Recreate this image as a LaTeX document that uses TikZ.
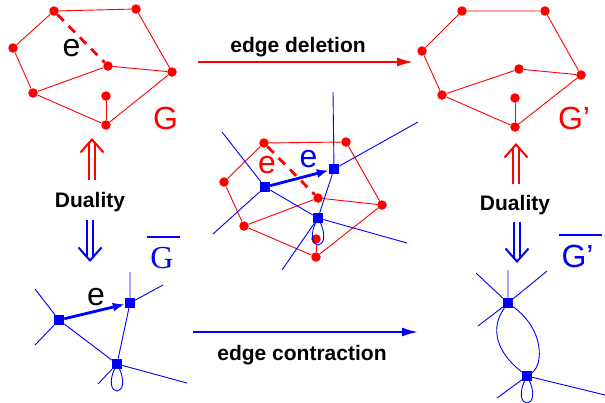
\documentclass[tikz,border=0pt]{standalone}
\usepackage{fontspec}
\setmainfont{Liberation Sans}
\newfontfamily\serifG{Liberation Serif}
\usetikzlibrary{arrows.meta}
\newcommand{\ovl}[1]{\vbox{\hrule height 1.5pt\kern 9pt\hbox{#1}}}

\begin{document}
\begin{tikzpicture}[x=1pt, y=-1pt, >=Latex]
  \tikzstyle{rdot}=[circle, fill=red, inner sep=0pt, minimum size=9.5pt]
  \tikzstyle{bsq}=[rectangle, fill=blue, inner sep=0pt, minimum size=10pt]
  \tikzstyle{redge}=[red, line width=0.9pt]
  \tikzstyle{bedge}=[blue, line width=0.9pt]
  \tikzstyle{dedge}=[red, line width=2.8pt, dash pattern=on 9pt off 7pt]
  \tikzstyle{earr}=[blue, line width=2.8pt, -{Latex[length=12pt,width=9pt]}]
  \tikzstyle{lbl}=[anchor=base, inner sep=0pt, font=\fontsize{32}{36}\selectfont]
  \tikzstyle{bold}=[anchor=base, inner sep=0pt, font=\fontsize{21}{25}\selectfont\bfseries]
  \tikzstyle{harr}=[line width=2pt, -{Latex[length=16pt,width=9pt]}]
  \tikzstyle{dshaft}=[double, double distance=3.6pt, line width=1.8pt, shorten >=5pt]
  \tikzstyle{dhead}=[line width=2pt, shorten <=40pt,
                     -{Straight Barb[length=13pt,width=23pt,line width=2pt]}]

  \useasboundingbox (0,0) rectangle (605,402);

  % graph G
  \node[rdot] at ( 54, 11) (g1) {};
  \node[rdot] at (136,  9) (g2) {};
  \node[rdot] at ( 13, 48) (g3) {};
  \node[rdot] at (108, 66) (g4) {};
  \node[rdot] at (172, 72) (g5) {};
  \node[rdot] at ( 33, 93) (g6) {};
  \node[rdot] at (106, 96) (g7) {};
  \node[rdot] at (106,125) (g8) {};
  \draw[redge] (g1) -- (g2) -- (g5) -- (g8) -- (g6) -- (g3) -- (g1);
  \draw[redge] (g6) -- (g4) -- (g5);
  \draw[redge] (g7) -- (g8);
  \draw[dedge] (g1) -- (g4);
  \node[lbl] at (71.5,56) (eg) {e};
  \node[lbl, red] at (165.5,129) (lg) {G};

  % graph G'
  \node[rdot] at (462, 11) (h1) {};
  \node[rdot] at (545, 11) (h2) {};
  \node[rdot] at (422, 51) (h3) {};
  \node[rdot] at (519, 69) (h4) {};
  \node[rdot] at (581, 75) (h5) {};
  \node[rdot] at (442, 95) (h6) {};
  \node[rdot] at (515, 98) (h7) {};
  \node[rdot] at (515,127) (h8) {};
  \draw[redge] (h1) -- (h2) -- (h5) -- (h8) -- (h6) -- (h3) -- (h1);
  \draw[redge] (h6) -- (h4) -- (h5);
  \draw[redge] (h7) -- (h8);
  \node[lbl, red] at (574,129) (lgp) {G'};

  % G and its dual together
  \node[rdot] at (264,143) (m1) {};
  \node[rdot] at (346,142) (m2) {};
  \node[rdot] at (224,182) (m3) {};
  \node[rdot] at (318,198) (m4) {};
  \node[rdot] at (382,205) (m5) {};
  \node[rdot] at (244,226) (m6) {};
  \node[rdot] at (316,239) (m7) {};
  \node[rdot] at (316,257) (m8) {};
  \draw[redge] (m1) -- (m2) -- (m5) -- (m8) -- (m6) -- (m3) -- (m1);
  \draw[redge] (m6) -- (m4) -- (m5);
  \draw[redge] (m7) -- (m8);

  \coordinate (ma1) at (222,132);
  \coordinate (ma2) at (213,234);
  \coordinate (mb1) at (333, 92);
  \coordinate (mb2) at (418,122);
  \coordinate (mc1) at (407,243);
  \coordinate (mc2) at (282,270);
  \node[bsq] at (265,187) (ma) {};
  \node[bsq] at (334,169) (mb) {};
  \node[bsq] at (318,218) (mc) {};
  \draw[bedge] (ma1) -- (ma) -- (ma2);
  \draw[bedge] (mb1) -- (mb) -- (mb2);
  \draw[bedge] (mc1) -- (mc) -- (mc2);
  \draw[bedge] (ma) -- (mc) -- (mb);
  \draw[bedge] (mc.center) .. controls +(-20,36) and +(20,36) .. (mc.center);
  \node[bsq] at (318,218) {};
  \draw[earr] (ma) -- (mb);
  \draw[dedge] (m1) -- (m4);
  \node[lbl, red] at (267,173) (em) {e};
  \node[lbl, blue] at (308.5,167) (ed) {e};

  % dual graph of G
  \coordinate (a1) at ( 35,289);
  \coordinate (a2) at ( 35,345);
  \coordinate (b1) at (130,272);
  \coordinate (b2) at (163,285);
  \coordinate (c1) at (187,383);
  \coordinate (c2) at ( 98,384);
  \node[bsq] at ( 59,320) (da) {};
  \node[bsq] at (130,303) (db) {};
  \node[bsq] at (117,364) (dc) {};
  \draw[bedge] (a1) -- (da) -- (a2);
  \draw[bedge] (b1) -- (db) -- (b2);
  \draw[bedge] (c1) -- (dc) -- (c2);
  \draw[bedge] (da) -- (dc) -- (db);
  \draw[bedge] (dc.center) .. controls +(-20,36) and +(20,36) .. (dc.center);
  \node[bsq] at (117,364) {};
  \draw[earr] (da) -- (db);
  \node[lbl] at (96,305) (eb) {e};
  \node[lbl, blue] at (163.5,268) (lgb) {\ovl{\kern3pt\serifG G\kern6pt}};

  % dual graph of G'
  \coordinate (p1) at (508,270);
  \coordinate (p2) at (476,273);
  \coordinate (p3) at (547,271);
  \coordinate (p4) at (478,326);
  \coordinate (q1) at (605,395);
  \coordinate (q2) at (497,398);
  \node[bsq] at (508,303) (dp) {};
  \node[bsq] at (527,376) (dq) {};
  \draw[bedge] (p1) -- (dp) -- (p4);
  \draw[bedge] (p2) -- (dp) -- (p3);
  \draw[bedge] (q1) -- (dq) -- (q2);
  \draw[bedge] (dp) .. controls (490,328) and (496,352) .. (dq);
  \draw[bedge] (dp) .. controls (545,330) and (543,365) .. (dq);
  \draw[bedge] (dq.center) .. controls +(-20,36) and +(20,36) .. (dq.center);
  \node[bsq] at (527,376) {};
  \node[lbl, blue] at (580,267) (lgbp) {\ovl{\kern3pt G'\kern8pt}};

  % operations
  \coordinate (del1) at (198,62);
  \coordinate (del2) at (413,62);
  \coordinate (con1) at (193,332);
  \coordinate (con2) at (418,332);
  \draw[harr, red] (del1) -- (del2);
  \draw[harr, blue] (con1) -- (con2);
  \node[bold] at (298,52) (tdel) {edge deletion};
  \node[bold] at (302,360) (tcon) {edge contraction};

  % duality
  \node[bold] at (90,207) (dl) {Duality};
  \node[bold] at (515,210) (dr) {Duality};
  \coordinate (lu1) at (92,180);
  \coordinate (lu2) at (92,138);
  \coordinate (ld1) at (90,220);
  \coordinate (ld2) at (90,262);
  \coordinate (ru1) at (516,184);
  \coordinate (ru2) at (516,143);
  \coordinate (rd1) at (517,222);
  \coordinate (rd2) at (517,263);
  \draw[dshaft, red] (lu1) -- (lu2);
  \draw[dhead, red] (lu1) -- (lu2);
  \draw[dshaft, blue] (ld1) -- (ld2);
  \draw[dhead, blue] (ld1) -- (ld2);
  \draw[dshaft, red] (ru1) -- (ru2);
  \draw[dhead, red] (ru1) -- (ru2);
  \draw[dshaft, blue] (rd1) -- (rd2);
  \draw[dhead, blue] (rd1) -- (rd2);
\end{tikzpicture}
\end{document}
